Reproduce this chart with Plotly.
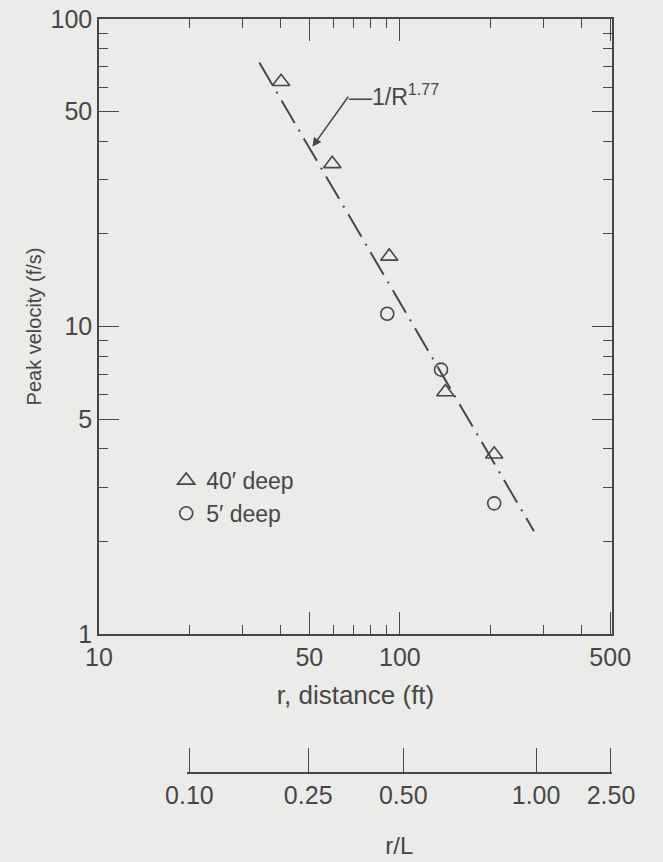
import math
import plotly.graph_objects as go

# ---- data ----
r_40ft = [40.3, 59.6, 92.2, 141.6, 205.8]
v_40ft = [62.5, 33.8, 16.9, 6.12, 3.84]

r_5ft = [90.8, 137.0, 205.8]
v_5ft = [11.0, 7.24, 2.66]

fit_r = [34.1, 279.0]
fit_v = [72.2, 2.16]

x_major_ticks = [10, 50, 100, 500]
x_major_labels = ["10", "50", "100", "500"]
x_minor_ticks = [20, 30, 40, 60, 70, 80, 90, 200, 300, 400]

y_major_ticks = [1, 5, 10, 50, 100]
y_major_labels = ["1", "5", "10", "50", "100"]
y_minor_ticks = [2, 3, 4, 6, 7, 8, 9, 20, 30, 40, 60, 70, 80, 90]

rl_labels = ["0.10", "0.25", "0.50", "1.00", "2.50"]
rl_at_ft = [19.6, 49.0, 102.0, 284.0, 506.0]   # r (ft) under each r/L tick

arrow_tip = (51.2, 38.4)
arrow_tail = (67.9, 56.5)
fit_label = "\u20141/R<sup>1.77</sup>"

# ---- styling ----
BG = "#ebebe9"
INK = "#474747"
FONT = "Liberation Sans, Arial, sans-serif"

fig = go.Figure()

fig.add_trace(go.Scatter(
    x=fit_r, y=fit_v, mode="lines",
    line=dict(color=INK, width=2, dash="26px,8px,2px,8px"),
    showlegend=False, hoverinfo="skip"))

fig.add_trace(go.Scatter(
    x=r_40ft, y=v_40ft, mode="markers", name="40\u2032 deep",
    marker=dict(symbol="triangle-up-open", size=15, color=INK,
                line=dict(width=1.6, color=INK)),
    legendgroup="a"))

fig.add_trace(go.Scatter(
    x=r_5ft, y=v_5ft, mode="markers", name="5\u2032 deep",
    marker=dict(symbol="circle-open", size=13, color=INK,
                line=dict(width=1.6, color=INK)),
    legendgroup="b"))

# invisible trace so the r/L axis is drawn
fig.add_trace(go.Scatter(
    x=rl_at_ft, y=[1] * len(rl_at_ft), xaxis="x2", yaxis="y",
    mode="markers", marker=dict(opacity=0), showlegend=False,
    hoverinfo="skip"))

L, R, T, B = 99, 51, 19, 89
plot_h = 862 - T - B
y_bottom_px = 634
y_dom0 = (862 - B - y_bottom_px) / plot_h
rl_left_px = 186.7
x_dom0 = (rl_left_px - L) / (663 - L - R)

common = dict(
    type="log", showgrid=False, zeroline=False, showline=True,
    linecolor=INK, linewidth=1.5, ticks="inside", tickcolor=INK,
    tickwidth=1.3, tickfont=dict(family=FONT, size=25, color=INK),
    automargin=False,
)

fig.update_layout(
    width=663, height=862,
    margin=dict(l=L, r=R, t=T, b=B),
    paper_bgcolor=BG, plot_bgcolor="rgba(0,0,0,0)",
    font=dict(family=FONT, color=INK),
    xaxis=dict(
        **common, range=[1, math.log10(507)], domain=[0, 1], anchor="y",
        mirror="ticks", tickmode="array", tickvals=x_major_ticks,
        ticktext=x_major_labels, ticklen=22,
        minor=dict(tickmode="array", tickvals=x_minor_ticks, ticklen=9,
                   ticks="inside", tickcolor=INK, tickwidth=1.2),
        title=dict(text="r, distance (ft)", standoff=16,
                   font=dict(family=FONT, size=26, color=INK)),
    ),
    yaxis=dict(
        **common, range=[0, 2], domain=[y_dom0, 1], anchor="x",
        mirror="ticks", tickmode="array", tickvals=y_major_ticks,
        ticktext=y_major_labels, ticklen=20,
        minor=dict(tickmode="array", tickvals=y_minor_ticks, ticklen=9,
                   ticks="inside", tickcolor=INK, tickwidth=1.2),
        title=dict(text="Peak velocity (f/s)", standoff=4,
                   font=dict(family=FONT, size=20, color=INK)),
    ),
    xaxis2=dict(
        **common, range=[math.log10(19.2), math.log10(510)],
        domain=[x_dom0, 1], anchor="free", position=0,
        tickmode="array", tickvals=rl_at_ft, ticktext=rl_labels, ticklen=24,
        title=dict(text="r/L", standoff=28,
                   font=dict(family=FONT, size=24, color=INK)),
    ),
    legend=dict(
        x=0.131, y=0.4165, xanchor="left", yanchor="top",
        bgcolor="rgba(0,0,0,0)", font=dict(family=FONT, size=23, color=INK),
        tracegroupgap=0,
    ),
    annotations=[
        dict(x=math.log10(arrow_tip[0]), y=math.log10(arrow_tip[1]),
             ax=math.log10(arrow_tail[0]), ay=math.log10(arrow_tail[1]),
             xref="x", yref="y", axref="x", ayref="y", text="",
             showarrow=True, arrowhead=2, arrowsize=1.2, arrowwidth=1.5,
             arrowcolor=INK),
        dict(x=math.log10(arrow_tail[0]), y=math.log10(arrow_tail[1]),
             xref="x", yref="y", text=fit_label, showarrow=False,
             xanchor="left", yanchor="middle", xshift=-2, yshift=0,
             font=dict(family=FONT, size=23, color=INK)),
    ],
)

fig.write_html("out.html")
